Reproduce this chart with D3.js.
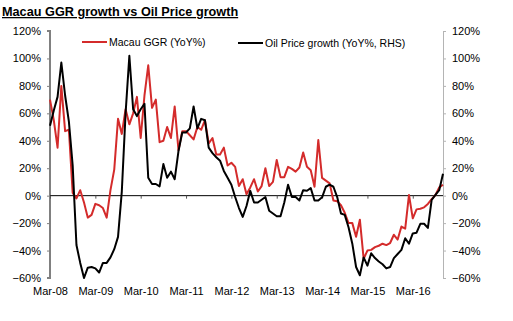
<!DOCTYPE html>
<html>
<head>
<meta charset="utf-8">
<script src="https://cdn.jsdelivr.net/npm/d3@7/dist/d3.min.js"></script>
<style>
  html, body { margin: 0; padding: 0; background: #fff; }
  svg { display: block; }
  text { font-family: "Liberation Sans", Arial, sans-serif; }
</style>
</head>
<body>
<svg id="chart" width="513" height="321"></svg>
<script>
// Monthly YoY growth, Mar-08 onwards
const startMonth = new Date(2008, 2, 1);

const ggrGrowth = [
  70, 55, 35, 80, 47, 48, 2, -2, 4, -5, -16, -14,
  -6, -7, -9, -16, 4, 19, 56, 45, 63, 52, 60, 72,
  42, 73, 95, 64, 70, 39, 40, 50, 42, 65, 33, 47,
  47, 44, 41, 50, 48, 55, 38, 42, 30, 30, 35, 22,
  24, 21, 7, 12, 1, 6, 12, 3, 7, 20, 7, 10,
  26, 13.5, 13.5, 21, 19.5, 17.5, 20.5, 31.5, 21, 18.5, 6.5, 40.5,
  13, 11, 9, -3.5, -4, -7, -12.5, -20, -20, -30, -17.5, -46,
  -40, -39.5, -37.5, -36.5, -35, -36, -34.5, -28.5, -32, -22.5, -24, 0.5,
  -16.5, -10, -9.5, -8.5, -6, -2.5, 0.5, 6, 8
];

const oilGrowth = [
  51, 62, 72, 97, 73, 54, 22, -36, -49, -60, -52.5, -52,
  -53, -56, -49, -49, -45, -39, -30, 3, 60, 102, 63, 58,
  63, 67, 13, 8.5, 8.5, 6.8, 23, 13, 17.5, 12, 32.5, 46,
  46, 49, 65, 49, 56, 55, 35, 31, 28, 25.5, 18, 13,
  8, -1, -9, -15.5, -7.5, 3.5, -5, -5, -3, -1, -11, -13,
  -15, -15, -5, 8, -1, -1, -3.5, 4, 3.6, 5.5, -3.5, -3.5,
  -1.2, 6.5, 8, 6.5, -1, -13, -14, -23, -35, -52, -58, -45,
  -51, -42, -45.5, -48, -50, -53, -52, -45.5, -42.5, -39.5, -31, -35,
  -27.5, -27, -20.5, -20.5, -23.5, -3, 0.5, 4, 16
];

const yTicks = [-0.6, -0.4, -0.2, 0, 0.2, 0.4, 0.6, 0.8, 1.0, 1.2];

const seriesNames = ["Macau GGR (YoY%)", "Oil Price growth (YoY%, RHS)"];
const seriesColors = ["#d42b2b", "#000000"];

const months = ggrGrowth.map((_, i) => d3.timeMonth.offset(startMonth, i));
const monthFmt = d3.timeFormat("%b-%y");

const svg = d3.select("#chart");
const plot = { left: 50, right: 443, top: 31, bottom: 278 };

const x = d3.scalePoint()
  .domain(months.map(d => +d))
  .range([plot.left, plot.right]);

const yLeft = d3.scaleLinear().domain([-0.6, 1.2]).range([plot.bottom, plot.top]);
const yRight = d3.scaleLinear().domain([-0.6, 1.2]).range([plot.bottom, plot.top]);

const pct = d3.format(".0%");

// Title
svg.append("text")
  .attr("x", 2)
  .attr("y", 16)
  .attr("font-size", "12.7px")
  .attr("font-weight", "bold")
  .attr("text-decoration", "underline")
  .attr("fill", "#000")
  .text("Macau GGR growth vs Oil Price growth");

// Left axis
const leftAxis = svg.append("g")
  .attr("transform", `translate(${plot.left},0)`)
  .call(d3.axisLeft(yLeft).tickValues(yTicks).tickFormat(pct).tickSize(3).tickPadding(6));
leftAxis.select(".domain").attr("stroke", "#808080").attr("stroke-width", 2).attr("d", `M-3,${plot.top}H0V${plot.bottom}H-3`);
leftAxis.selectAll(".tick line").attr("stroke", "#808080");
leftAxis.selectAll("text").attr("font-size", "11px").attr("fill", "#000").attr("font-family", "'Liberation Sans', Arial, sans-serif");

// Right axis
const rightAxis = svg.append("g")
  .attr("transform", `translate(${plot.right},0)`)
  .call(d3.axisRight(yRight).tickValues(yTicks).tickFormat(pct).tickSize(3).tickPadding(6));
rightAxis.select(".domain").attr("stroke", "#b4b4b4").attr("stroke-width", 1);
rightAxis.selectAll(".tick line").attr("stroke", "#b4b4b4");
rightAxis.selectAll("text").attr("font-size", "11px").attr("fill", "#000").attr("font-family", "'Liberation Sans', Arial, sans-serif");

// Category axis drawn along the zero line, labels at the bottom
const yearTicks = months.filter(d => d.getMonth() === 2).map(d => +d);
const zeroAxis = svg.append("g")
  .attr("transform", `translate(0,${yLeft(0)})`)
  .call(d3.axisBottom(x).tickValues(yearTicks).tickSize(3).tickFormat(""));
zeroAxis.select(".domain").attr("stroke", "#000").attr("stroke-width", 1).attr("d", `M${plot.left},0H${plot.right}`);
zeroAxis.selectAll(".tick line").attr("stroke", "#555");

const labelAxis = svg.append("g")
  .attr("transform", `translate(0,${plot.bottom})`)
  .call(d3.axisBottom(x).tickValues(yearTicks).tickSize(0).tickPadding(9)
    .tickFormat(d => monthFmt(new Date(d))));
labelAxis.select(".domain").remove();
labelAxis.selectAll("text").attr("font-size", "11px").attr("fill", "#000").attr("font-family", "'Liberation Sans', Arial, sans-serif");

// Series lines
const ggrLine = d3.line()
  .x((d, i) => x(+months[i]))
  .y(d => yLeft(d / 100));
const oilLine = d3.line()
  .x((d, i) => x(+months[i]))
  .y(d => yRight(d / 100));

svg.append("path")
  .datum(ggrGrowth)
  .attr("fill", "none")
  .attr("stroke", seriesColors[0])
  .attr("stroke-width", 2)
  .attr("stroke-linejoin", "round")
  .attr("d", ggrLine);

svg.append("path")
  .datum(oilGrowth)
  .attr("fill", "none")
  .attr("stroke", seriesColors[1])
  .attr("stroke-width", 2)
  .attr("stroke-linejoin", "round")
  .attr("d", oilLine);

// Legend
const legendItems = [
  { name: seriesNames[0], color: seriesColors[0], x: 82, y: 42 },
  { name: seriesNames[1], color: seriesColors[1], x: 238, y: 43 }
];
const legend = svg.append("g");
legendItems.forEach(item => {
  legend.append("line")
    .attr("x1", item.x).attr("x2", item.x + 25)
    .attr("y1", item.y).attr("y2", item.y)
    .attr("stroke", item.color).attr("stroke-width", 2);
  legend.append("text")
    .attr("x", item.x + 27)
    .attr("y", item.y)
    .attr("dy", "0.35em")
    .attr("font-size", "10.5px")
    .attr("fill", "#000")
    .text(item.name);
});
</script>
</body>
</html>
